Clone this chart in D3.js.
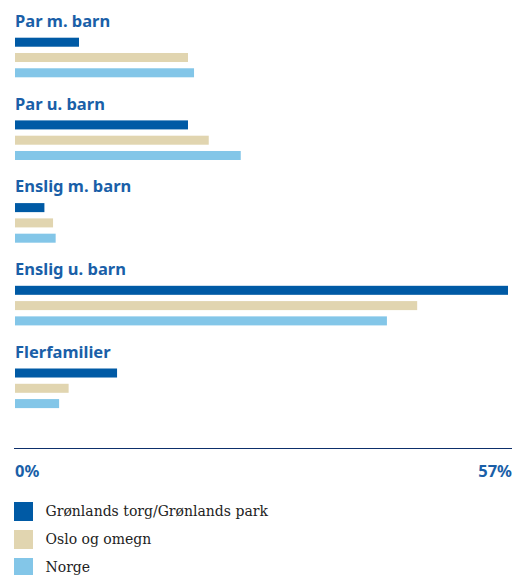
<!DOCTYPE html>
<meta charset="utf-8">
<script src="https://d3js.org/d3.v7.min.js"></script>
<style>
  body { margin: 0; background: #fff; }
</style>
<div id="my_dataviz"></div>
<script>

// categories and series
var categories = ["Par m. barn", "Par u. barn", "Enslig m. barn", "Enslig u. barn", "Flerfamilier"];
var seriesNames = ["Grønlands torg/Grønlands park", "Oslo og omegn", "Norge"];
var colors = ["#005aa5", "#e1d5b0", "#83c6e8"];

// percent values per series, same order as categories
var groenland = [7.4, 20.0, 3.4, 57.0, 11.8];
var oslo = [20.0, 22.4, 4.4, 46.5, 6.2];
var norge = [20.7, 26.1, 4.7, 43.0, 5.1];
var allValues = [groenland, oslo, norge];

var tickLabels = ["0%", "57%"];
var xMax = 57;

var width = 517, height = 575;

var svg = d3.select("#my_dataviz")
  .append("svg")
    .attr("width", width)
    .attr("height", height);

// scales
var x = d3.scaleLinear().domain([0, xMax]).range([15, 508]);

var y = d3.scaleBand()
  .domain(categories)
  .range([10, 10 + 5 * 82.7]);

var yInner = d3.scaleBand()
  .domain(seriesNames)
  .range([27.7, 67.3])
  .paddingInner(0.41);

// one group per category
var groups = svg.selectAll("g.cat")
  .data(categories)
  .enter()
  .append("g")
    .attr("class", "cat")
    .attr("transform", function(d) { return "translate(0," + y(d) + ")"; });

groups.append("text")
  .attr("x", 15)
  .attr("y", 17)
  .attr("font-family", "Noto Sans, sans-serif")
  .attr("font-weight", "bold")
  .attr("font-size", "16.5px")
  .attr("fill", "#1a5fa8")
  .text(function(d) { return d; });

groups.selectAll("rect")
  .data(function(d, i) {
    return seriesNames.map(function(s, j) { return {series: s, value: allValues[j][i], color: colors[j]}; });
  })
  .enter()
  .append("rect")
    .attr("x", x(0))
    .attr("y", function(d) { return yInner(d.series); })
    .attr("width", function(d) { return x(d.value) - x(0); })
    .attr("height", yInner.bandwidth())
    .attr("fill", function(d) { return d.color; });

// axis line
svg.append("line")
  .attr("x1", 14)
  .attr("x2", 512)
  .attr("y1", 448.5)
  .attr("y2", 448.5)
  .attr("stroke", "#0d2f6b")
  .attr("stroke-width", 1.2);

// tick labels at both ends
svg.selectAll("text.tick")
  .data([0, xMax])
  .enter()
  .append("text")
    .attr("class", "tick")
    .attr("x", function(d, i) { return i === 0 ? x(d) : 512; })
    .attr("y", 476.5)
    .attr("text-anchor", function(d, i) { return i === 0 ? "start" : "end"; })
    .attr("font-family", "Noto Sans, sans-serif")
    .attr("font-weight", "bold")
    .attr("font-size", "16.5px")
    .attr("fill", "#1a5fa8")
    .text(function(d, i) { return tickLabels[i]; });

// legend
var legend = svg.selectAll("g.legend")
  .data(seriesNames)
  .enter()
  .append("g")
    .attr("class", "legend")
    .attr("transform", function(d, i) { return "translate(14," + (502 + i * 28) + ")"; });

legend.append("rect")
  .attr("width", 19)
  .attr("height", 19)
  .attr("fill", function(d, i) { return colors[i]; });

legend.append("text")
  .attr("x", 31.5)
  .attr("y", 14)
  .attr("font-family", "DejaVu Serif, serif")
  .attr("font-size", "14px")
  .attr("fill", "#222")
  .text(function(d) { return d; });

</script>
